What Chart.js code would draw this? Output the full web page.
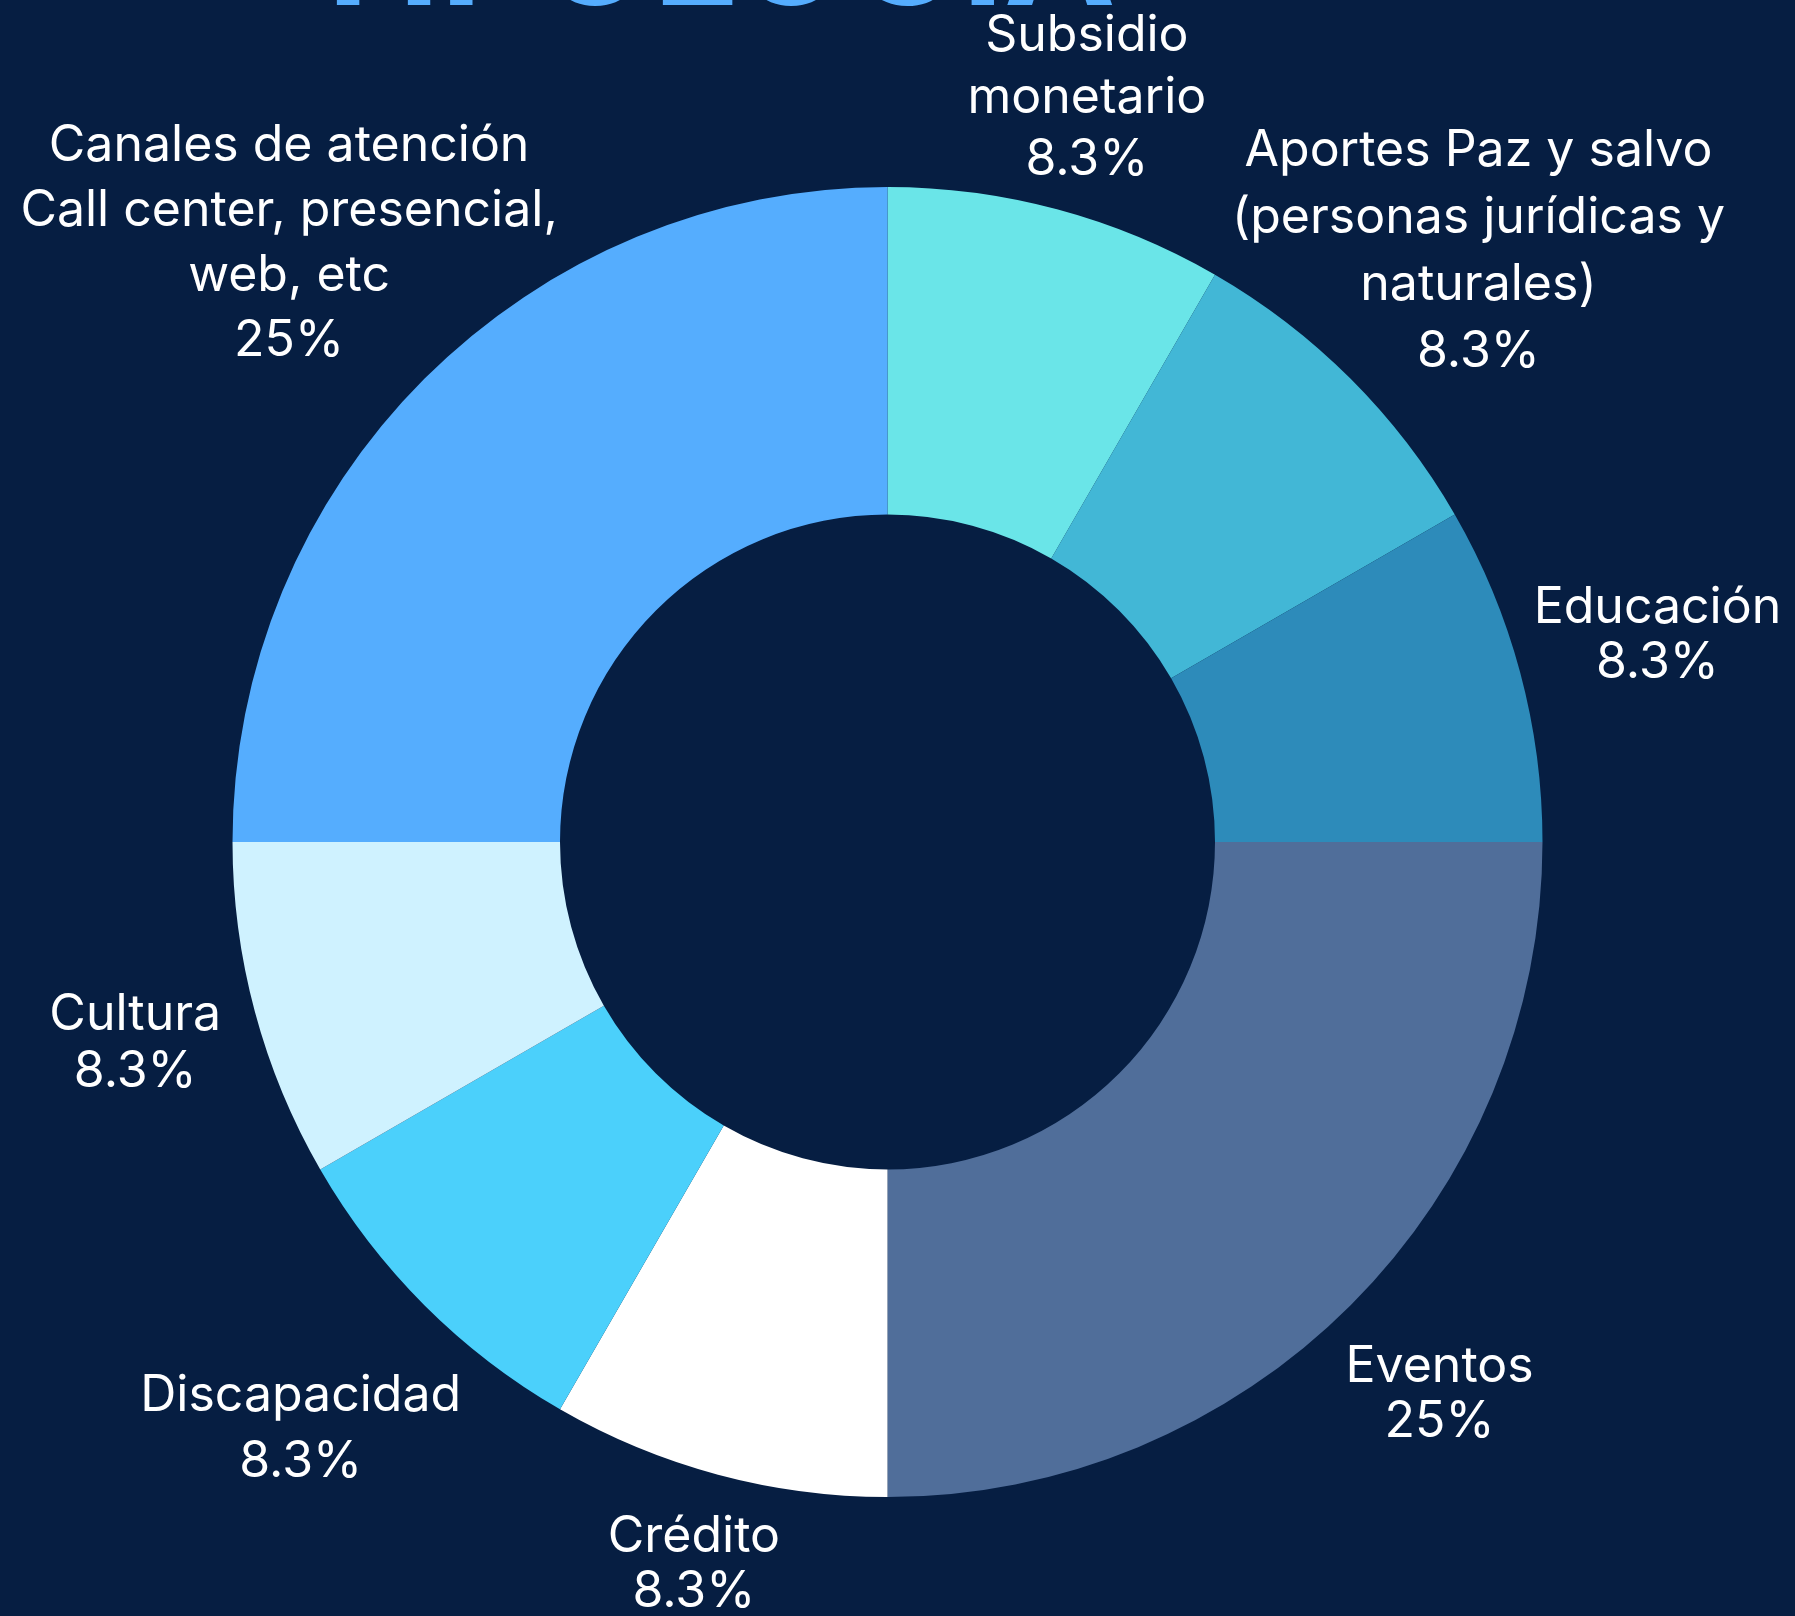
<!DOCTYPE html>
<html lang="es">
<head>
<meta charset="utf-8">
<title>Tipología</title>
<script src="https://cdn.jsdelivr.net/npm/chart.js@4.4.1/dist/chart.umd.min.js"></script>
<style>
  html, body { margin: 0; padding: 0; background: #061e42; overflow: hidden; }
  #wrap { width: 1795px; height: 1616px; position: relative; }
</style>
</head>
<body>
<div id="wrap"><canvas id="donut"></canvas></div>
<script>
// datos
const categories = [
  ['Subsidio', 'monetario'],
  ['Aportes Paz y salvo', '(personas jurídicas y', 'naturales)'],
  ['Educación'],
  ['Eventos'],
  ['Crédito'],
  ['Discapacidad'],
  ['Cultura'],
  ['Canales de atención', 'Call center, presencial,', 'web, etc']
];
const counts = [1, 1, 1, 3, 1, 1, 1, 3];
const sliceColors = ['#6ae5e8', '#42b7d6', '#2d8bba', '#506e9a', '#ffffff', '#4bd0fb', '#cff2ff', '#55adfe'];
const titleText = 'TIPOLOGÍA';

// distancia de cada etiqueta (en radios exteriores) y su interlineado
const labelDist = [1.176, 1.276, 1.217, 1.192, 1.142, 1.267, 1.189, 1.292];
const labelLineH = [62, 67, 55, 55, 55, 66, 57, 65];

const total = counts.reduce((a, b) => a + b, 0);
function pct(v) {
  let s = (v / total * 100).toFixed(1);
  if (s.endsWith('.0')) s = s.slice(0, -2);
  return s + '%';
}

const bgPlugin = {
  id: 'bg',
  beforeDraw(chart) {
    const c = chart.ctx;
    c.save();
    c.fillStyle = '#061e42';
    c.fillRect(0, 0, chart.width, chart.height);
    c.restore();
  }
};

const outsideLabels = {
  id: 'outsideLabels',
  afterDatasetsDraw(chart) {
    const c = chart.ctx;
    const meta = chart.getDatasetMeta(0);
    c.save();
    c.fillStyle = '#ffffff';
    c.font = '400 50px Inter, "DejaVu Sans", sans-serif';
    c.textAlign = 'center';
    c.textBaseline = 'middle';
    meta.data.forEach((arc, i) => {
      const p = arc.getProps(['x', 'y', 'startAngle', 'endAngle', 'outerRadius'], true);
      const mid = (p.startAngle + p.endAngle) / 2;
      const r = p.outerRadius * labelDist[i];
      const cx = p.x + Math.cos(mid) * r;
      const cy = p.y + Math.sin(mid) * r;
      const lh = labelLineH[i];
      const lines = categories[i].concat([pct(counts[i])]);
      const top = cy - (lines.length - 1) * lh / 2;
      lines.forEach((t, j) => c.fillText(t, cx, top + j * lh));
    });
    // título cortado arriba
    c.fillStyle = '#55adfe';
    c.font = '700 150px Inter, "DejaVu Sans", sans-serif';
    c.textAlign = 'left';
    c.textBaseline = 'alphabetic';
    c.fillText(titleText, 298, 5);
    c.restore();
  }
};

new Chart(document.getElementById('donut'), {
  type: 'doughnut',
  data: {
    labels: categories,
    datasets: [{
      data: counts,
      backgroundColor: sliceColors,
      borderWidth: 0,
      hoverOffset: 0,
      offset: 0
    }]
  },
  options: {
    responsive: true,
    maintainAspectRatio: false,
    animation: false,
    cutout: '50%',
    layout: { padding: { left: 232, right: 252, top: 187, bottom: 119 } },
    plugins: {
      legend: { display: false },
      tooltip: { enabled: false }
    }
  },
  plugins: [bgPlugin, outsideLabels]
});
</script>
</body>
</html>
